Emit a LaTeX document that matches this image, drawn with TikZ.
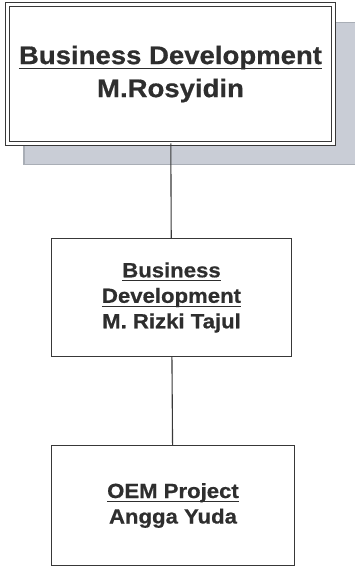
\documentclass[tikz,border=0pt]{standalone}
\usepackage{fontspec}
\setmainfont{Liberation Sans}[FakeStretch=1.08, BoldFeatures={FakeBold=0.6}]
\usetikzlibrary{positioning,shadows}

\definecolor{txtgray}{HTML}{2E2E2E}
\definecolor{linegray}{HTML}{383838}
\definecolor{shadowfill}{HTML}{C9CDD6}
\definecolor{shadowedge}{HTML}{A9AEB6}

% underline at a fixed depth, through the descenders
\newcommand{\undl}[1]{\setbox0=\hbox{#1}\rlap{\rule[-0.2em]{\wd0}{0.06em}}\box0}

\tikzset{
  unitbox/.style={draw=linegray, fill=white, line width=1.1pt, inner sep=0pt, outer sep=0pt,
    align=center, text=txtgray, font={\fontsize{20.5}{25.5}\selectfont\bfseries}},
  headbox/.style={unitbox, double, double distance=2.4pt, line width=1.2pt,
    minimum width=326pt, minimum height=139pt,
    font={\fontsize{25.5}{33}\selectfont\bfseries},
    general shadow={fill=shadowfill, draw=shadowedge, line width=1.5pt,
      shadow xshift=19.5pt, shadow yshift=-19pt, shadow scale=1.02}},
}

\begin{document}
\begin{tikzpicture}[x=1pt, y=1pt]
    \useasboundingbox (0,0) rectangle (355,568);

    \node (BD) [headbox] at (170.5,494) {\undl{Business Development}\\M.Rosyidin};
    \node (BDa) [unitbox, minimum width=240pt, minimum height=118pt,
      below=95pt of BD, xshift=1pt] {\undl{Business}\\\undl{Development}\\M. Rizki Tajul};
    \node (OEM) [unitbox, minimum width=243pt, minimum height=120pt,
      below=89pt of BDa, xshift=1.5pt] {\undl{OEM Project}\\Angga Yuda};

    \draw[linegray, line width=1.1pt] (BD) -- (BDa);
    \draw[linegray, line width=1.1pt] (BDa) -- (OEM);
  \end{tikzpicture}
\end{document}
